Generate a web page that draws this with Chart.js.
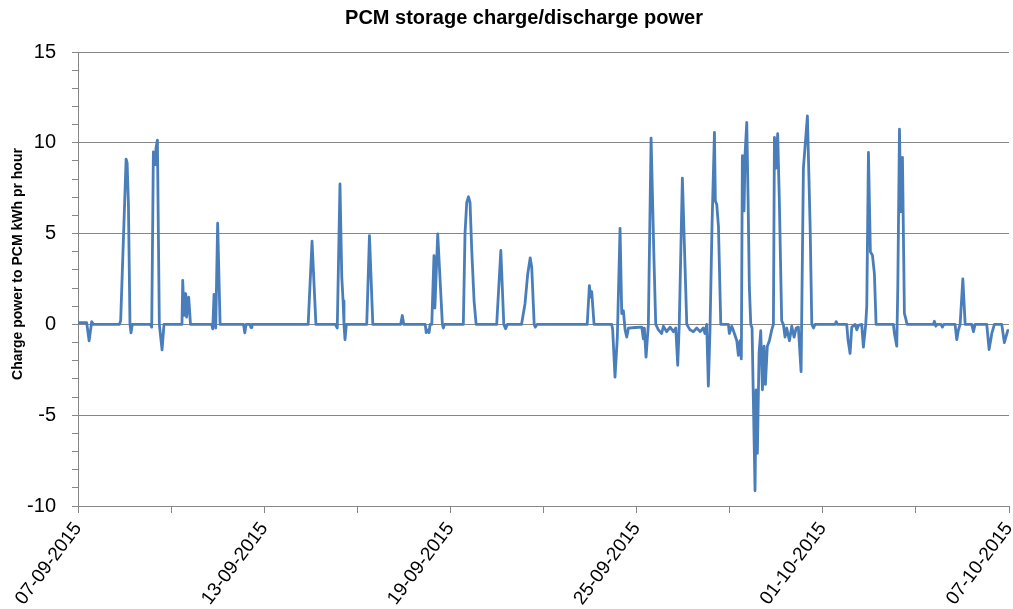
<!DOCTYPE html>
<html>
<head>
<meta charset="utf-8">
<script src="https://cdn.jsdelivr.net/npm/chart.js@4/dist/chart.umd.min.js"></script>
<style>
  html, body { margin: 0; background: #fff; }
</style>
</head>
<body>
<canvas id="chart" width="1013" height="609"></canvas>
<script>
// PCM storage charge/discharge power, 07-09-2015 .. 07-10-2015.
// x = hours since 07-09-2015 00:00, y = kWh per hour.
const TITLE = "PCM storage charge/discharge power";
const Y_TITLE = "Charge power to PCM kWh pr hour";

const hours = [
  0, 6.7, 8.6, 10.6, 12, 32, 33, 37.2, 38, 39, 40.2, 41, 42,
  56, 57, 58.3, 59.6, 60.3, 61.4, 62.9, 65, 66.5,
  80.4, 81, 82, 83.3, 84, 85.6, 87,
  103.4, 104.2, 105.2, 106.5, 108, 109.9,
  128, 129, 130, 133, 133.8, 134.5,
  178, 181, 184, 199, 200.5, 202.6, 204, 205, 205.7, 206.5, 207.5,
  223.3, 225.4, 228, 249.5, 250.8, 252,
  268.5, 269.3, 270.5, 271.5, 272.3, 273.6, 275.3, 276, 278.2, 281.8, 282.5, 283.5,
  298, 299.3, 300.6, 302, 303.2, 304.5, 306.3, 307.9,
  323.8, 327, 329.3, 330.7, 332,
  343, 345.7, 347.8, 349.7, 350.9, 352.8, 353.7, 355,
  393.8, 395.5, 396.5, 397.3, 399.1,
  412.8, 413.5, 415.3, 417.1, 419.2, 420.5, 421.8, 423.1, 424.4, 425.7, 430.8,
  436, 437.2, 438, 439.3, 441.1, 443.2, 445.5, 446.8, 448.9, 451.4, 452.7,
  455.3, 457.9, 460.5, 462.3, 463.8, 465, 467.4, 470.8,
  473.3, 476, 478.5, 481.1, 483.6, 484.9, 486.2, 487.5, 488.8,
  490.3, 492.2, 492.9, 494, 495.3, 497.1,
  503, 503.7, 505.6, 506.9, 509.5, 510.7, 512, 513,
  513.8, 515.1, 515.9, 517.2, 518.2, 519.2, 520.3,
  521.3, 522.3, 523.6, 524.4, 525.4, 526.7, 528, 529.3, 530.6, 531.6, 533.1, 534.7, 536.5, 537.8,
  538.6, 539.8, 541.1, 542.4, 544.2, 545.5,
  546.8, 548.1, 550.2, 552, 553.8, 555.4, 557.1, 559.2,
  561, 564.1, 566.2, 567.5, 568.8, 570,
  585.6, 586.3, 587.3, 594.5, 595.5, 597.1, 598.4, 601, 602.3, 603.6, 606.1, 607.4, 609.2,
  610, 611.3, 612.8, 614.4, 615.9, 617.2,
  630.6, 631.4, 633.2, 634, 635.3, 636.3, 637.6, 638.6, 639.1, 640.2, 641.2,
  661.5, 662.3, 663.4, 664.4, 667.5, 668.5, 669.6,
  678.3, 679.6, 680.9, 682.2, 684.3, 686.1, 691.2, 692.5, 693.8,
  702.8, 704.6, 706.7, 708.7, 714.4, 716.4, 719, 720
];

const power = [
  0.1, 0.1, -0.9, 0.15, 0, 0, 0.2, 9.1, 8.9, 6.6, 0, -0.46, 0,
  0, -0.15, 9.5, 8.8, 9.7, 10.15, 0, -1.4, 0,
  0, 2.42, 0.5, 1.7, 0.4, 1.5, 0,
  0, -0.25, 1.65, -0.2, 5.57, 0,
  0, -0.46, 0, 0, -0.17, 0,
  0, 4.58, 0, 0, -0.2, 7.73, 2.6, 1.3, 0, -0.84, 0,
  0, 4.89, 0, 0, 0.49, 0,
  0, -0.45, -0.3, -0.45, 0, 0, 3.79, 0.9, 4.98, 0, -0.2, 0,
  0, 5.0, 6.7, 7.03, 6.7, 4.1, 1.3, 0,
  0, 4.07, 0, -0.24, 0,
  0, 1.14, 2.78, 3.66, 3.15, 0, -0.15, 0,
  0, 2.14, 1.5, 1.8, 0,
  0, -0.3, -2.9, -0.7, 5.29, 0.6, 0.75, -0.3, -0.7, -0.2, -0.17,
  -0.15, -0.8, -0.2, -1.8, 0, 10.26, 3.42, 0, -0.3, -0.5, -0.1,
  -0.4, -0.15, -0.4, -0.2, -2.25, 0, 8.06, 0,
  -0.3, -0.4, -0.2, -0.4, -0.2, -0.5, 0, -3.4, -0.2,
  5.35, 10.57, 6.8, 6.6, 5.4, 0,
  0, -0.5, -0.1, -0.35, -0.9, -1.7, -0.9, -1.9,
  9.29, 6.25, 9.4, 11.12, 7.0, 2.05, 0,
  -0.2, -4.18, -9.16, -3.6, -7.1, -1.6, -0.35, -3.6, -1.2, -3.3, -1.2, -0.9, -0.3, 0,
  10.3, 8.6, 10.5, 6.8, 0.2, 0,
  -0.7, -0.2, -0.9, -0.1, -0.7, -0.2, -0.15, -2.6,
  8.6, 11.48, 5.4, 0, -0.2, 0,
  0, 0.15, 0, 0, -0.85, -1.6, -0.15, 0, -0.3, -0.05, 0, -1.25, 0,
  1.0, 9.47, 4.0, 3.8, 2.8, 0,
  0, -0.5, -1.2, 2.05, 10.75, 6.2, 9.2, 3.5, 0.6, 0.3, 0,
  0, 0.17, -0.1, 0, 0, -0.15, 0,
  0, -0.84, -0.3, 0, 2.51, 0, 0, -0.4, 0,
  0, -1.39, -0.5, 0, 0, -1.0, -0.35, -0.3
];

// One date label every 6 days (144 h); ticks every 3 days.
const dateLabels = ["07-09-2015", "13-09-2015", "19-09-2015", "25-09-2015", "01-10-2015", "07-10-2015"];

const GRID = "#868686";
const FONT = "'Liberation Sans', Arial, sans-serif";

// Title and rotated y-axis title, placed where the Excel original puts them.
const titlesPlugin = {
  id: "titles",
  afterDraw(chart) {
    const ctx = chart.ctx;
    ctx.save();
    ctx.fillStyle = "#000";
    ctx.textAlign = "center";
    ctx.textBaseline = "middle";
    ctx.font = "bold 20px " + FONT;
    ctx.fillText(TITLE, 524, 18);
    ctx.translate(18, 264);
    ctx.rotate(-Math.PI / 2);
    ctx.font = "bold 14px " + FONT;
    ctx.fillText(Y_TITLE, 0, 0);
    ctx.restore();
  },
};

new Chart(document.getElementById("chart"), {
  type: "line",
  data: {
    datasets: [{
      data: hours.map((h, i) => ({ x: h, y: power[i] })),
      borderColor: "#4a7ebb",
      borderWidth: 2.8,
      borderJoinStyle: "round",
      pointRadius: 0,
      tension: 0,
    }],
  },
  options: {
    responsive: false,
    animation: false,
    layout: { padding: { top: 52, right: 4, left: 0, bottom: 0 } },
    plugins: { legend: { display: false }, tooltip: { enabled: false }, title: { display: false } },
    scales: {
      x: {
        type: "linear",
        min: 0,
        max: 720,
        // fixed axis height; the rotated labels end at their tick, so no extra right padding
        afterFit: (s) => { s.height = 103; s.paddingRight = 0; },
        border: { color: GRID },
        grid: { drawOnChartArea: false, color: GRID, tickLength: 7 },
        ticks: {
          stepSize: 72,
          autoSkip: false,
          minRotation: 53,
          maxRotation: 53,
          padding: 5,
          color: "#000",
          font: { family: FONT, size: 19 },
          callback: (v) => (v % 144 === 0 ? dateLabels[v / 144] : ""),
        },
      },
      y: {
        min: -10,
        max: 15,
        afterFit: (s) => { s.width = 78; },
        border: { color: GRID },
        grid: {
          color: (c) => (c.tick && c.tick.value % 5 === 0 ? GRID : "rgba(0,0,0,0)"),
          tickColor: GRID,
          tickLength: 6,
        },
        ticks: {
          stepSize: 1,
          autoSkip: false,
          padding: 16,
          color: "#000",
          font: { family: FONT, size: 20 },
          callback: (v) => (v % 5 === 0 ? String(v) : ""),
        },
      },
    },
  },
  plugins: [titlesPlugin],
});
</script>
</body>
</html>
